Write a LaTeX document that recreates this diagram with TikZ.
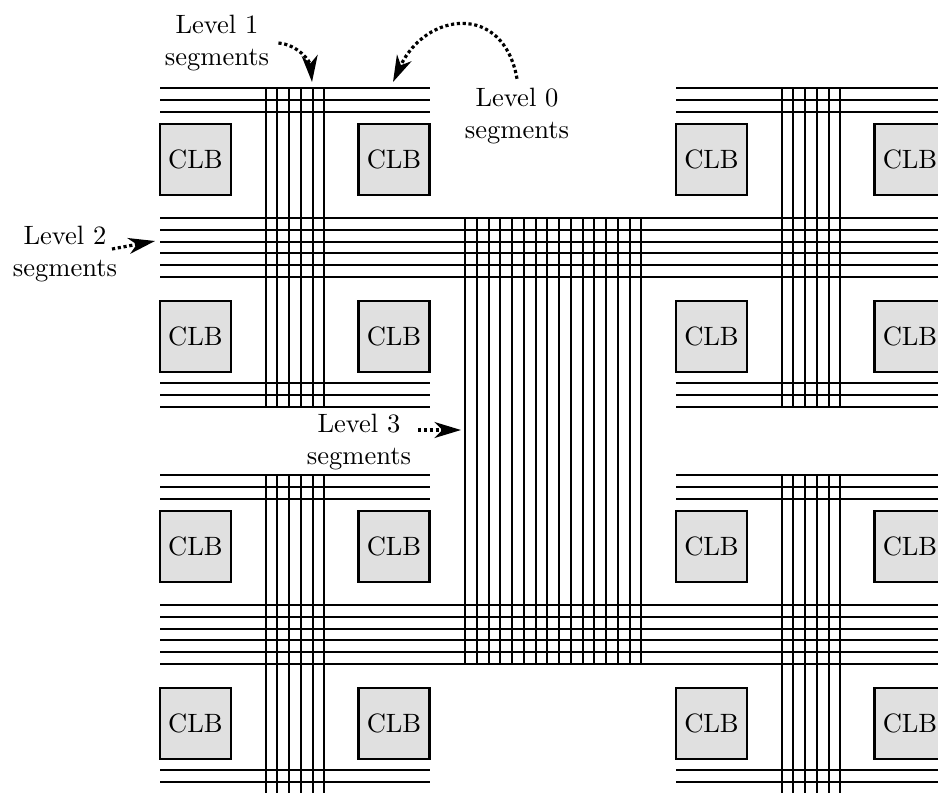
\documentclass[tikz,border=0pt]{standalone}
\usepackage{tikz}
\usetikzlibrary{arrows.meta}
\definecolor{clbgray}{RGB}{224, 224, 224}

\tikzset{
  wire/.style={line width=0.75pt},
  clb/.style={draw, line width=0.85pt, fill=clbgray, minimum size=26.8pt, inner sep=0pt},
  seglabel/.style={align=center},
  pointer/.style={line width=1.2pt, densely dotted, -{Stealth[length=10pt, width=6pt, inset=3pt]}}
}

\begin{document}
\begin{tikzpicture}[x=0.377pt, y=-0.377pt]
  \useasboundingbox (0,0) rectangle (938,792);
  \clip (0,0) rectangle (938,792);

  % Four tiles of 2x2 CLBs with level 0 and level 1 wires
  \foreach \ox/\oy/\t in {160/88/a, 676/88/b, 160/475/c, 676/475/d} {
    \foreach \k in {0,1,2} {
      \draw[wire] (\ox,\oy+\k*11.75) -- ++(270,0);
      \draw[wire] (\ox,\oy+295+\k*11.75) -- ++(270,0);
    }
    \foreach \k in {0,...,5}
      \draw[wire] (\ox+105.7+\k*11.75,\oy) -- ++(0,318.5);
    \node[clb] (\t-1) at (\ox+35.5,\oy+71.75) {CLB};
    \node[clb] (\t-2) at (\ox+234,\oy+71.75) {CLB};
    \node[clb] (\t-3) at (\ox+35.5,\oy+248.3) {CLB};
    \node[clb] (\t-4) at (\ox+234,\oy+248.3) {CLB};
  }

  % Level 2 rows
  \foreach \y in {218,605}
    \foreach \k in {0,...,5}
      \draw[wire] (160,\y+\k*11.75) -- (946,\y+\k*11.75);

  % Level 3 column
  \foreach \k in {0,...,15}
    \draw[wire] (465+\k*11.75,218) -- (465+\k*11.75,663.75);

  % Labels
  \node[seglabel] (lvl1) at (217,43) {Level 1\\segments};
  \node[seglabel] (lvl0) at (517,116) {Level 0\\segments};
  \node[seglabel] (lvl2) at (65,254) {Level 2\\segments};
  \node[seglabel] (lvl3) at (359,442) {Level 3\\segments};

  \coordinate (tip1) at (312,82);
  \coordinate (tip0) at (393,82);
  \coordinate (tail2) at (112,249);
  \coordinate (tip2) at (155,241);
  \coordinate (tail3) at (418,430);
  \coordinate (tip3) at (461,430);

  \draw[pointer] (lvl1.east) to[out=-5, in=95] (tip1);
  \draw[pointer] (lvl0.north) to[out=100, in=65, looseness=1.6] (tip0);
  \draw[pointer] (tail2) -- (tip2);
  \draw[pointer] (tail3) -- (tip3);
\end{tikzpicture}
\end{document}
